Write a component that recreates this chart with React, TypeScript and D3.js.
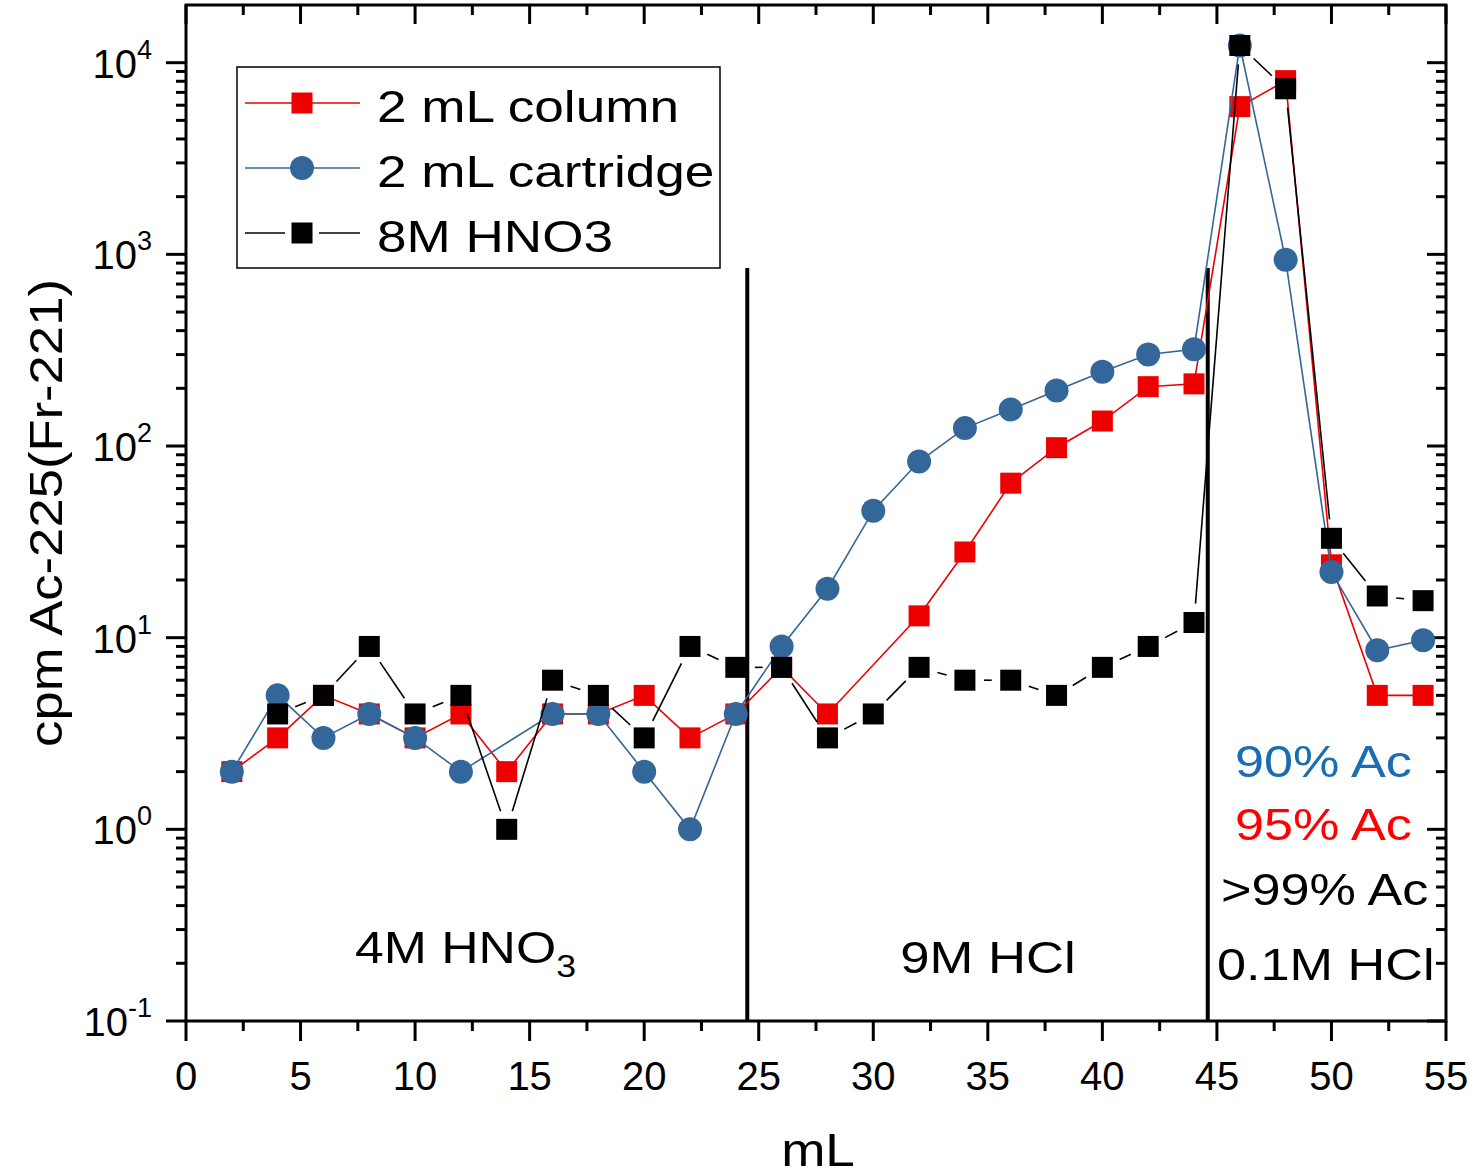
import React from "react";
import * as d3 from "d3";

const xValues = [2, 4, 6, 8, 10, 12, 14, 16, 18, 20, 22, 24, 26, 28, 30, 32, 34, 36, 38, 40, 42, 44, 46, 48, 50, 52, 54];
const columnValues: (number | null)[] = [2, 3, 5, 4, 3, 4, 2, 4, 4, 5, 3, 4, 7, 4, null, 13, 28, 64, 98, 135, 204, 211, 5900, 8060, 24, 5, 5];
const cartridgeValues: (number | null)[] = [2, 5, 3, 4, 3, 2, null, 4, 4, 2, 1, 4, 9, 18, 46, 83, 124, 155, 195, 244, 300, 320, 12300, 937, 22, 8.6, 9.7];
const hno3Values: (number | null)[] = [null, 4, 5, 9, 4, 5, 1, 6, 5, 3, 9, 7, 7, 3, 4, 7, 6, 6, 5, 7, 9, 12, 12300, 7310, 33, 16.5, 15.6];

const seriesNames = ["2 mL column", "2 mL cartridge", "8M HNO3"];
const seriesColors = ["#EE0000", "#336699", "#000000"];
const xTicks = [0, 5, 10, 15, 20, 25, 30, 35, 40, 45, 50, 55];
const yTickExps = [-1, 0, 1, 2, 3, 4];
const dividers = [24.5, 44.6];
const dividerTop = 850;

const W = 1476, H = 1175;
const L = 186, R = 1446, T = 5, B = 1021;
const FONT = "'Liberation Sans', Arial, sans-serif";

const x = d3.scaleLinear().domain([0, 55]).range([L, R]);
const y = d3.scaleLog().domain([0.1, 20000]).range([B, T]);

type Pt = { x: number; v: number };
const toPts = (vals: (number | null)[]): Pt[] =>
  xValues.map((xv, i) => ({ x: xv, v: vals[i] as number })).filter((p) => p.v != null);

function SText({ x: tx, y: ty, size, sx, fill = "#000", anchor = "start", rotate = 0, children }: any) {
  return (
    <text
      transform={`translate(${tx},${ty}) rotate(${rotate}) scale(${sx},1)`}
      fontSize={size}
      fontFamily={FONT}
      fill={fill}
      textAnchor={anchor}
    >
      {children}
    </text>
  );
}

function Square({ cx, cy, s, fill }: any) {
  return <rect x={cx - s / 2} y={cy - s / 2} width={s} height={s} fill={fill} />;
}

export default function App() {
  const line = d3
    .line<Pt>()
    .x((d) => x(d.x))
    .y((d) => y(d.v));

  const col = toPts(columnValues);
  const car = toPts(cartridgeValues);
  const hno = toPts(hno3Values);

  const gap = 19;
  const blackSegs = hno.slice(1).map((p, i) => {
    const a = hno[i];
    const x1 = x(a.x), y1 = y(a.v), x2 = x(p.x), y2 = y(p.v);
    const len = Math.hypot(x2 - x1, y2 - y1);
    if (len <= 2 * gap) return null;
    const ux = (x2 - x1) / len, uy = (y2 - y1) / len;
    return { x1: x1 + ux * gap, y1: y1 + uy * gap, x2: x2 - ux * gap, y2: y2 - uy * gap };
  });

  const minorY: number[] = [];
  for (let e = -1; e <= 3; e++) for (let m = 2; m <= 9; m++) minorY.push(m * Math.pow(10, e));
  const minorX = d3.range(2.5, 55, 5);

  const sq = 21;
  const cr = 12;

  return (
    <svg width={W} height={H} style={{ position: "absolute", left: 0, top: 0, background: "#fff" }}>
      <rect x={0} y={0} width={W} height={H} fill="#fff" />
      <g stroke="#000" strokeWidth={3}>
        {yTickExps.map((e) => {
          const yy = y(Math.pow(10, e));
          return (
            <g key={"yt" + e}>
              <line x1={L - 20} x2={L} y1={yy} y2={yy} />
              <line x1={R - 19} x2={R} y1={yy} y2={yy} />
            </g>
          );
        })}
        {minorY.map((v, i) => {
          const yy = y(v);
          return (
            <g key={"ym" + i}>
              <line x1={L - 10} x2={L} y1={yy} y2={yy} />
              <line x1={R - 10} x2={R} y1={yy} y2={yy} />
            </g>
          );
        })}
        {xTicks.map((t) => (
          <g key={"xt" + t}>
            <line x1={x(t)} x2={x(t)} y1={B} y2={B + 20} />
            <line x1={x(t)} x2={x(t)} y1={T} y2={T + 19} />
          </g>
        ))}
        {minorX.map((t) => (
          <g key={"xm" + t}>
            <line x1={x(t)} x2={x(t)} y1={B} y2={B + 10} />
            <line x1={x(t)} x2={x(t)} y1={T} y2={T + 10} />
          </g>
        ))}
      </g>
      <rect x={L} y={T} width={R - L} height={B - T} fill="none" stroke="#000" strokeWidth={3} />

      {xTicks.map((t) => (
        <text key={"xl" + t} x={x(t)} y={1090} fontSize={40} fontFamily={FONT} textAnchor="middle">
          {t}
        </text>
      ))}
      {yTickExps.map((e) => (
        <text key={"yl" + e} x={152} y={y(Math.pow(10, e)) + 15} fontSize={40} fontFamily={FONT} textAnchor="end">
          10
          <tspan fontSize={27} dy={-19}>
            {e}
          </tspan>
        </text>
      ))}

      <SText x={(L + R) / 2 + 2} y={1166} size={47} sx={1.13} anchor="middle">
        mL
      </SText>
      <SText x={62} y={(T + B) / 2} size={47} sx={1.12} anchor="middle" rotate={-90}>
        cpm Ac-225(Fr-221)
      </SText>

      {dividers.map((d) => (
        <line key={"dv" + d} x1={x(d)} x2={x(d)} y1={y(dividerTop)} y2={B} stroke="#000" strokeWidth={4} />
      ))}

      <path d={line(col) || ""} fill="none" stroke={seriesColors[0]} strokeWidth={1.6} />
      {col.map((p, i) => (
        <Square key={"c" + i} cx={x(p.x)} cy={y(p.v)} s={sq} fill={seriesColors[0]} />
      ))}
      <path d={line(car) || ""} fill="none" stroke={seriesColors[1]} strokeWidth={1.6} />
      {car.map((p, i) => (
        <circle key={"b" + i} cx={x(p.x)} cy={y(p.v)} r={cr} fill={seriesColors[1]} />
      ))}
      {blackSegs.map((s, i) =>
        s ? <line key={"bs" + i} x1={s.x1} y1={s.y1} x2={s.x2} y2={s.y2} stroke="#000" strokeWidth={1.6} /> : null
      )}
      {hno.map((p, i) => (
        <Square key={"k" + i} cx={x(p.x)} cy={y(p.v)} s={sq} fill={seriesColors[2]} />
      ))}

      <SText x={355} y={963} size={45} sx={1.15}>
        4M HNO<tspan fontSize={31} dy={14}>3</tspan>
      </SText>
      <SText x={988} y={973} size={45} sx={1.17} anchor="middle">
        9M HCl
      </SText>
      <SText x={1217} y={980} size={45} sx={1.16}>
        0.1M HCl
      </SText>
      <SText x={1235} y={777} size={45} sx={1.16} fill="#1a6db0">
        90% Ac
      </SText>
      <SText x={1235} y={840} size={45} sx={1.16} fill="#ff0000">
        95% Ac
      </SText>
      <SText x={1221} y={905} size={45} sx={1.16}>
        &gt;99% Ac
      </SText>

      <rect x={237} y={67} width={483} height={201} fill="#fff" stroke="#000" strokeWidth={1.5} />
      {seriesNames.map((n, i) => {
        const cy = 103 + i * 65;
        return (
          <g key={"lg" + i}>
            {i === 2 ? (
              <>
                <line x1={245} x2={285} y1={cy} y2={cy} stroke="#000" strokeWidth={1.5} />
                <line x1={319} x2={360} y1={cy} y2={cy} stroke="#000" strokeWidth={1.5} />
              </>
            ) : (
              <line x1={245} x2={360} y1={cy} y2={cy} stroke={seriesColors[i]} strokeWidth={1.5} />
            )}
            {i === 1 ? (
              <circle cx={302} cy={cy} r={cr} fill={seriesColors[1]} />
            ) : (
              <Square cx={302} cy={cy} s={sq} fill={seriesColors[i]} />
            )}
            <SText x={377} y={cy + 19} size={45} sx={1.18}>
              {n}
            </SText>
          </g>
        );
      })}
    </svg>
  );
}
